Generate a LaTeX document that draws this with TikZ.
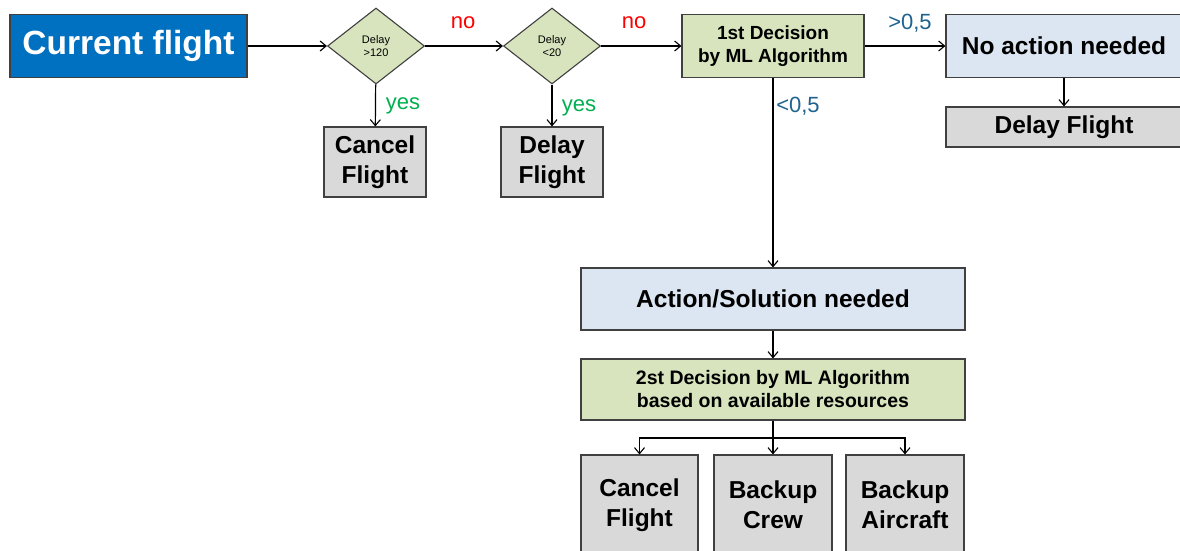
\documentclass[tikz,border=0pt]{standalone}
\usepackage{fontspec}
\setmainfont{Liberation Sans}
\usetikzlibrary{shapes.geometric,arrows.meta}
\definecolor{cfblue}{HTML}{0070C0}
\definecolor{boxgray}{HTML}{D9D9D9}
\definecolor{boxgreen}{HTML}{D7E4BD}
\definecolor{boxblue}{HTML}{DCE6F2}
\definecolor{edge}{HTML}{404040}
\definecolor{nored}{HTML}{FF0000}
\definecolor{yesgreen}{HTML}{00B050}
\definecolor{teal}{HTML}{1F6391}
\tikzset{
  x=1pt, y=-1pt,
  box/.style={draw=edge, line width=1.1pt, inner sep=0pt, align=center, font=\bfseries},
  graybox/.style={box, fill=boxgray},
  greenbox/.style={box, fill=boxgreen},
  bluebox/.style={box, fill=boxblue},
  decision/.style={shape=diamond, draw=edge, line width=1.1pt, fill=boxgreen, inner sep=0pt,
     minimum width=97pt, minimum height=76pt, align=center, font=\fontsize{11}{13}\selectfont},
  arr/.style={draw=black, line width=1.2pt, -{Straight Barb[length=6pt,width=10pt,line width=1.1pt]}},
  conn/.style={draw=black, line width=1.2pt},
  lab/.style={inner sep=0pt, font=\fontsize{22}{24}\selectfont},
  big/.style={font=\fontsize{24.5}{30}\selectfont\bfseries},
}
\begin{document}
\begin{tikzpicture}
\useasboundingbox[fill=white] (0,0) rectangle (1180,551);
\clip (0,0) rectangle (1180,551);

% top row
\node[box, fill=cfblue, text=white, minimum width=237pt, minimum height=63pt,
      font=\fontsize{33.5}{38}\selectfont\bfseries] (cf) at (128.5,46) {Current flight};
\node[decision] (d1) at (376,46) {Delay\\>120};
\node[decision] (d2) at (552,46) {Delay\\<20};
\node[greenbox, minimum width=182pt, minimum height=63pt,
      font=\fontsize{19}{23}\selectfont\bfseries] (dec1) at (773,46) {1st Decision\\by ML Algorithm};
\node[bluebox, minimum width=236pt, minimum height=63pt, big] (noact) at (1064,46) {No action needed};
\node[graybox, minimum width=236pt, minimum height=40pt, big] (delr) at (1064,127) {Delay Flight};

% outcomes of diamonds
\node[graybox, minimum width=102pt, minimum height=70pt, big] (cancel1) at (375,162) {Cancel\\Flight};
\node[graybox, minimum width=102pt, minimum height=70pt, big] (delay1) at (552,162) {Delay\\Flight};

% lower part
\node[bluebox, minimum width=384pt, minimum height=62pt, big] (act) at (773,299) {Action/Solution needed};
\node[greenbox, minimum width=384pt, minimum height=61pt,
      font=\fontsize{19.5}{23}\selectfont\bfseries] (dec2) at (773,389.5) {2st Decision by ML Algorithm\\based on available resources};
\node[graybox, minimum width=117pt, minimum height=100pt, big] (b1) at (639.5,505) {Cancel\\Flight};
\node[graybox, minimum width=118pt, minimum height=100pt, big] (b2) at (773,505) {Backup\\Crew};
\node[graybox, minimum width=118pt, minimum height=100pt, big] (b3) at (905,505) {Backup\\Aircraft};

% connectors
\draw[arr] (cf) -- (d1);
\draw[arr] (d1) -- (d2);
\draw[arr] (d2) -- (dec1);
\draw[arr] (dec1) -- (noact);
\draw[arr] (d1) -- (cancel1);
\draw[arr] (d2) -- (delay1);
\draw[arr] (noact) -- (delr);
\draw[arr] (dec1) -- (act);
\draw[arr] (act) -- (dec2);
\coordinate (split) at (773,438);
\draw[conn] (dec2.south) -- (split);
\draw[arr] (split) -| (b1);
\draw[arr] (split) -- (b2);
\draw[arr] (split) -| (b3);

% labels
\node[lab, text=nored] (no1) at (463,23) {no};
\node[lab, text=nored] (no2) at (634,23) {no};
\node[lab, text=yesgreen] (yes1) at (403,106) {yes};
\node[lab, text=yesgreen] (yes2) at (579,108) {yes};
\node[lab, text=teal] (gt) at (910,23) {>0,5};
\node[lab, text=teal] (lt) at (798,106) {<0,5};
\end{tikzpicture}
\end{document}
